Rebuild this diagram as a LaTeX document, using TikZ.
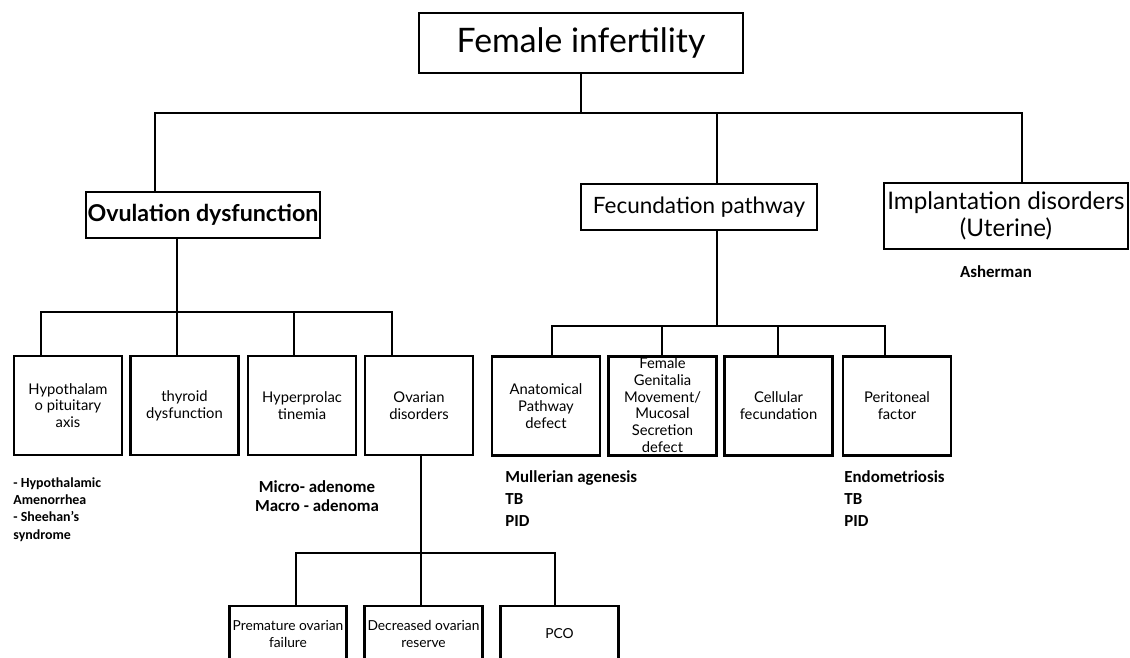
\documentclass[tikz,border=0pt]{standalone}
\usepackage{fontspec}
\setmainfont{Lato}
\newfontfamily\notefont{Carlito}

\begin{document}
\begin{tikzpicture}
    [x=0.025cm, y=-0.025cm, line width=2pt,
     every node/.style = {draw, rectangle, align=center, inner sep=1pt},
     topbox/.style = {minimum height=1.15cm, font=\fontsize{16}{19}\selectfont},
     subbox/.style = {minimum width=2.7cm, minimum height=2.475cm, font=\fontsize{10.5}{12}\selectfont},
     leafbox/.style = {minimum width=2.94cm, minimum height=1.4cm, font=\fontsize{9.8}{11.5}\selectfont},
     note/.style = {draw=none, inner sep=0pt, align=left, font=\notefont\bfseries\fontsize{12}{15.6}\selectfont}]
    \useasboundingbox (0,0) rectangle (1130,657);
    \clip (0,0) rectangle (1130,657);

    % main boxes
    \node[minimum width=8.1cm, minimum height=1.5cm, font=\fontsize{24}{28}\selectfont] (root) at (581,43) {Female infertility};
    \node[topbox, minimum width=5.85cm, font=\bfseries\fontsize{16.5}{19}\selectfont] (ovul) at (203,215) {Ovulation dysfunction};
    \node[topbox, minimum width=5.9cm] (fec) at (699,207) {Fecundation pathway};
    \node[topbox, minimum width=6.1cm, minimum height=1.65cm, font=\fontsize{17.2}{19}\selectfont] (impl) at (1006,216) {Implantation disorders\\(Uterine)};

    % second row
    \node[subbox] (hyp) at (68,405.5) {Hypothalam\\o pituitary\\axis};
    \node[subbox] (thy) at (184.5,405.5) {thyroid\\dysfunction};
    \node[subbox] (prl) at (302,405.5) {Hyperprolac\\tinemia};
    \node[subbox] (ova) at (419,405.5) {Ovarian\\disorders};
    \node[subbox] (ana) at (546,406) {Anatomical\\Pathway\\defect};
    \node[subbox] (gen) at (662.5,406) {\smash{\raisebox{-3.5pt}{\begin{tabular}{@{}c@{}}Female\\Genitalia\\Movement/\\Mucosal\\Secretion\\defect\end{tabular}}}};
    \node[subbox] (cel) at (778.5,406) {Cellular\\fecundation};
    \node[subbox] (per) at (897,406) {Peritoneal\\factor};

    % ovarian disorders
    \node[leafbox] (pof) at (288,634) {Premature ovarian\\failure};
    \node[leafbox] (dor) at (423.5,634) {Decreased ovarian\\reserve};
    \node[leafbox] (pco) at (559.5,634) {PCO};

    % notes
    \node[note, anchor=north west, font=\notefont\bfseries\fontsize{9.9}{12.3}\selectfont] (hypn) at (12,476) {- Hypothalamic\\Amenorrhea\\- Sheehan’s\\syndrome};
    \node[note, anchor=north, align=center, font=\notefont\bfseries\fontsize{12}{13.5}\selectfont] (prln) at (317,479) {Micro- adenome\\Macro - adenoma};
    \node[note, anchor=north west] (anan) at (504,469) {Mullerian agenesis\\TB\\PID};
    \node[note, anchor=north west] (pern) at (843,469) {Endometriosis\\TB\\PID};
    \node[note, font=\notefont\bfseries\fontsize{12}{14}\selectfont] (ashn) at (996,272) {Asherman};

    % connectors
    \coordinate (r1) at (155,113);
    \coordinate (r2) at (717,113);
    \coordinate (r3) at (1022,113);
    \draw (root.south) -- (root.south |- r1);
    \draw (ovul.north -| r1) -- (r1) -- (r3) -- (impl.north -| r3);
    \draw (r2) -- (fec.north -| r2);

    \coordinate (o1) at (41,312);
    \coordinate (o2) at (177,312);
    \coordinate (o3) at (294,312);
    \coordinate (o4) at (392,312);
    \draw (ovul.south -| o2) -- (o2);
    \draw (hyp.north -| o1) -- (o1) -- (o4) -- (ova.north -| o4);
    \foreach \c/\n in {o2/thy, o3/prl}
      \draw (\c) -- (\n.north -| \c);

    \coordinate (f0) at (717,326);
    \coordinate (f1) at (552,326);
    \coordinate (f2) at (662,326);
    \coordinate (f3) at (778,326);
    \coordinate (f4) at (885,326);
    \draw (fec.south -| f0) -- (f0);
    \draw (ana.north -| f1) -- (f1) -- (f4) -- (per.north -| f4);
    \foreach \c/\n in {f2/gen, f3/cel}
      \draw (\c) -- (\n.north -| \c);

    \coordinate (v0) at (421,553);
    \coordinate (v1) at (296,553);
    \coordinate (v3) at (555,553);
    \draw (ova.south -| v0) -- (v0);
    \draw (pof.north -| v1) -- (v1) -- (v3) -- (pco.north -| v3);
    \draw (v0) -- (dor.north -| v0);
  \end{tikzpicture}
\end{document}
